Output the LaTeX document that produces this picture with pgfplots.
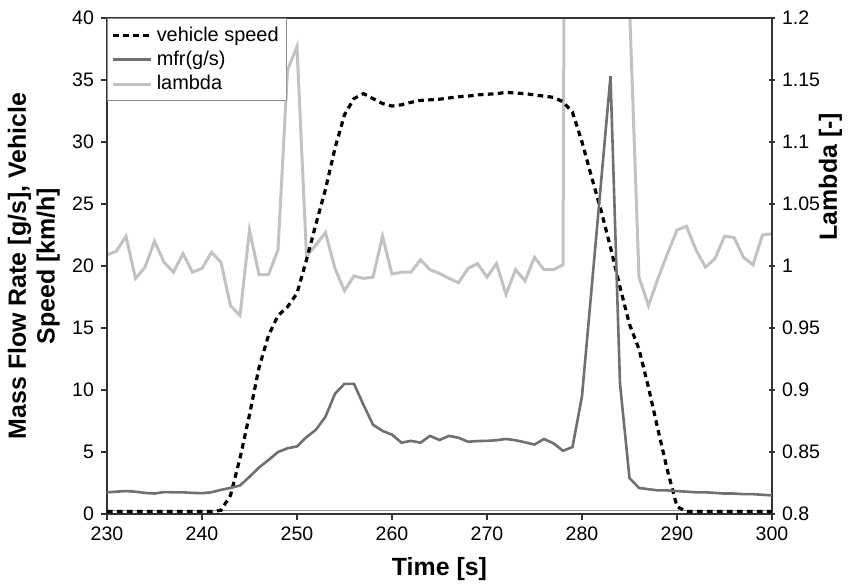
\documentclass[border=0pt]{standalone}
\usepackage{fontspec}
\setmainfont{Liberation Sans}
\usepackage{pgfplots}
\pgfplotsset{compat=1.18}
\definecolor{mfrgray}{RGB}{112,112,112}
\definecolor{lamgray}{RGB}{194,194,194}
\pgfplotsset{
  common/.style={
    scale only axis, width=332.5bp, height=248bp,
    xmin=230, xmax=300,
    /pgf/number format/assume math mode=true,
    tick label style={font=\fontsize{9.8}{10}\selectfont, black},
    label style={font=\bfseries\fontsize{12.5}{14.5}\selectfont},
    major tick length=3bp,
    tick style={line width=0.6bp, black!80},
    axis line style={line width=0.8bp, black!80},
  }
}
\begin{document}
\begin{tikzpicture}
% right axis: lambda (drawn first, underneath)
\begin{axis}[common,
  axis x line=none, axis y line*=right,
  ymin=0.8, ymax=1.2,
  ytick={0.8,0.85,0.9,0.95,1,1.05,1.1,1.15,1.2},
  yticklabel style={/pgf/number format/fixed},
  tick align=center,
  ylabel={Lambda [-]},
  ylabel style={at={(axis description cs:1.088,0.68)}, rotate=0, anchor=center},
]
\addplot[color=lamgray, line width=1.5bp] coordinates {
(230,1.009)(231,1.012)(232,1.024)(233,0.990)(234,0.999)(235,1.020)(236,1.003)(237,0.995)(238,1.010)(239,0.995)
(240,0.998)(241,1.011)(242,1.003)(243,0.968)(244,0.960)(245,1.029)(246,0.993)(247,0.993)(248,1.013)(249,1.158)
(250,1.177)(251,1.008)(252,1.017)(253,1.027)(254,0.998)(255,0.980)(256,0.992)(257,0.990)(258,0.991)(259,1.024)
(260,0.9935)(261,0.995)(262,0.995)(263,1.005)(264,0.997)(265,0.994)(266,0.990)(267,0.9865)(268,0.998)(269,1.002)
(270,0.991)(271,1.002)(272,0.977)(273,0.997)(274,0.988)(275,1.007)(276,0.997)(277,0.997)(278,1.001)(279,3.0)
(280,3.0)(281,3.0)(282,3.0)(283,3.0)(284,3.0)(285,1.21)(286,0.991)(287,0.968)(288,0.990)(289,1.010)
(290,1.029)(291,1.032)(292,1.013)(293,0.999)(294,1.006)(295,1.024)(296,1.023)(297,1.007)(298,1.001)(299,1.025)
(300,1.026)};
\end{axis}
% left axis: speed and mfr
\begin{axis}[common,
  ymin=0, ymax=40,
  xtick={230,240,...,300}, ytick={0,5,...,40},
  xtick pos=bottom, ytick pos=left, tick align=outside,
  xlabel={Time [s]},
  xlabel style={at={(axis description cs:0.5,-0.11)}, anchor=center},
  ylabel={Mass Flow Rate [g/s], Vehicle\\Speed [km/h]},
  ylabel style={at={(axis description cs:-0.11,0.5)}, anchor=center, align=center},
  legend style={at={(0,1)}, anchor=north west, draw=black!45, line width=0.6bp,
    fill=white, font=\fontsize{10}{12}\selectfont, cells={anchor=west},
    inner xsep=2bp, inner ysep=2bp, row sep=-0.5bp},
  legend image code/.code={\draw[#1] (0bp,0bp) -- (19bp,0bp);},
]
\coordinate (sw) at (rel axis cs:0,0);
\coordinate (ne) at (rel axis cs:1,1);
\addplot[forget plot, color=black!40, line width=0.6bp] coordinates {(230,0.27)(300,0.27)};
\addplot[black, line width=1.6bp, dash pattern=on 2.8bp off 2.2bp] coordinates {
(230,0.2)(231,0.2)(232,0.2)(233,0.2)(234,0.2)(235,0.2)(236,0.2)(237,0.2)(238,0.2)(239,0.2)
(240,0.2)(241,0.2)(242,0.3)(243,1.5)(244,4.5)(245,8.0)(246,11.8)(247,14.4)(248,16.0)(249,16.7)
(250,17.8)(251,20.5)(252,23.4)(253,26.2)(254,29.5)(255,32.2)(256,33.5)(257,33.9)(258,33.5)(259,33.1)
(260,32.9)(261,33.0)(262,33.2)(263,33.35)(264,33.4)(265,33.45)(266,33.55)(267,33.65)(268,33.7)(269,33.8)
(270,33.85)(271,33.9)(272,34.0)(273,33.95)(274,33.9)(275,33.8)(276,33.7)(277,33.6)(278,33.25)(279,32.4)
(280,30.0)(281,27.2)(282,24.5)(283,21.5)(284,18.3)(285,15.3)(286,13.3)(287,10.2)(288,6.8)(289,3.5)
(290,0.6)(291,0.2)(292,0.2)(293,0.2)(294,0.2)(295,0.2)(296,0.2)(297,0.2)(298,0.2)(299,0.2)(300,0.2)};
\addlegendentry{vehicle speed}
\addplot[color=mfrgray, line width=1.3bp] coordinates {
(230,1.75)(231,1.8)(232,1.85)(233,1.8)(234,1.7)(235,1.65)(236,1.77)(237,1.75)(238,1.75)(239,1.7)
(240,1.68)(241,1.75)(242,1.95)(243,2.1)(244,2.3)(245,3.0)(246,3.75)(247,4.35)(248,5.0)(249,5.3)
(250,5.45)(251,6.2)(252,6.8)(253,7.85)(254,9.7)(255,10.5)(256,10.5)(257,8.8)(258,7.2)(259,6.7)
(260,6.4)(261,5.75)(262,5.9)(263,5.75)(264,6.3)(265,5.97)(266,6.3)(267,6.15)(268,5.83)(269,5.88)
(270,5.9)(271,5.95)(272,6.05)(273,5.95)(274,5.78)(275,5.6)(276,6.05)(277,5.7)(278,5.1)(279,5.4)
(280,9.5)(281,18.1)(282,26.7)(283,35.3)(284,10.5)(285,2.9)(286,2.1)(287,2.0)(288,1.9)(289,1.9)
(290,1.85)(291,1.8)(292,1.75)(293,1.75)(294,1.7)(295,1.65)(296,1.65)(297,1.6)(298,1.6)(299,1.55)(300,1.5)};
\addlegendentry{mfr(g/s)}
\addlegendimage{color=lamgray, line width=1.5bp}
\addlegendentry{lambda}
\end{axis}
\pgfresetboundingbox
\path ([shift={(-53.5bp,-35bp)}]sw) rectangle ([shift={(38.5bp,9bp)}]ne);
\end{tikzpicture}
\end{document}
